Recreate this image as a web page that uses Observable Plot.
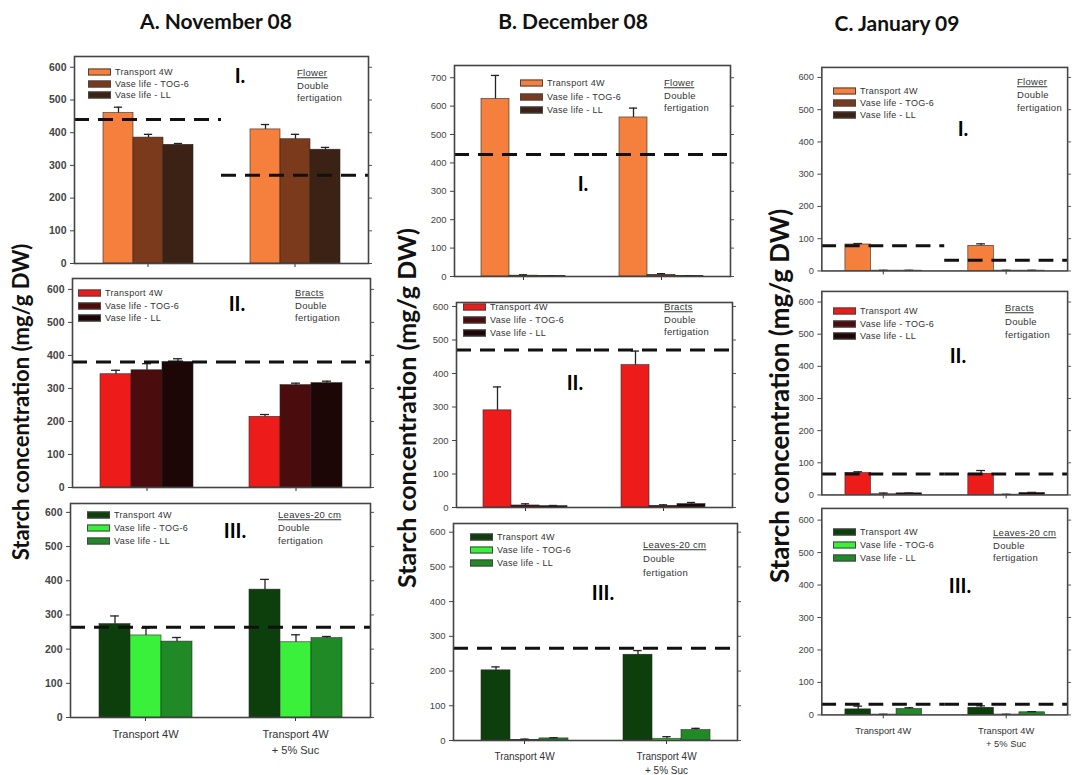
<!DOCTYPE html>
<html>
<head>
<meta charset="utf-8">
<script src="https://cdn.jsdelivr.net/npm/d3@7"></script>
<script src="https://cdn.jsdelivr.net/npm/@observablehq/plot@0.6"></script>
<style>
  body { margin: 0; background: #fff; }
  #root { position: relative; width: 1075px; height: 775px; overflow: hidden; font-family: "Liberation Sans", Arial, sans-serif; }
  .abs { position: absolute; white-space: nowrap; }
  .title { font-family: Lato, "Open Sans", sans-serif; font-weight: bold; font-size: 21px; color: #111; transform: translate(-50%, -50%); }
  .ylab { font-family: Lato, "Open Sans", sans-serif; font-weight: bold; color: #111; transform: translate(-50%, -50%) rotate(-90deg); }
  .num { font-family: Lato, "Open Sans", sans-serif; font-weight: bold; font-size: 20px; color: #000; transform: translate(-50%, -50%); }
  .leg { font-size: 9px; color: #333; transform: translateY(-50%); line-height: 1; letter-spacing: 0.3px; }
  .sw { width: 23px; height: 7px; border: 1px solid #444; box-sizing: border-box; transform: translateY(-50%); }
  .org { font-size: 9.5px; color: #333; transform: translateY(-50%); line-height: 1; letter-spacing: 0.3px; }
</style>
</head>
<body>
<div id="root"></div>
<script>
// ---------- data ----------
const groups = ["Transport 4W", "Transport 4W\n+ 5% Suc"];
const series = ["Transport 4W", "Vase life - TOG-6", "Vase life - LL"];
const yTicks600 = [0, 100, 200, 300, 400, 500, 600];
const yTicks700 = [0, 100, 200, 300, 400, 500, 600, 700];

// values ordered: group1 (T4W, TOG-6, LL), group2 (T4W, TOG-6, LL)
const novFlower    = [460, 385, 363, 410, 380, 348];
const novFlowerErr = [18, 10, 4, 15, 15, 7];
const novFlowerRef = [440, 270];
const novBracts    = [343, 355, 380, 214, 310, 316];
const novBractsErr = [12, 20, 10, 7, 6, 6];
const novBractsRef = [380, 380];
const novLeaves    = [273, 240, 222, 374, 220, 232];
const novLeavesErr = [24, 22, 12, 30, 22, 5];
const novLeavesRef = [264, 264];

const decFlower    = [625, 3, 2, 560, 6, 2];
const decFlowerErr = [83, 3, 1, 33, 4, 1];
const decFlowerRef = [430, 430];
const decBracts    = [290, 6, 4, 425, 5, 10];
const decBractsErr = [70, 5, 2, 42, 3, 5];
const decBractsRef = [470, 470];
const decLeaves    = [202, 2, 6, 247, 5, 30];
const decLeavesErr = [10, 2, 2, 12, 6, 5];
const decLeavesRef = [266, 266];

const janFlower    = [82, 1, 1, 78, 1, 1];
const janFlowerErr = [3, 1, 1, 6, 1, 1];
const janFlowerRef = [78, 33];
const janBracts    = [68, 2, 5, 66, 1, 6];
const janBractsErr = [4, 4, 1, 10, 1, 2];
const janBractsRef = [65, 65];
const janLeaves    = [17, 1, 18, 22, 1, 8];
const janLeavesErr = [10, 1, 4, 6, 1, 2];
const janLeavesRef = [33, 33];

const flowerColors = ["#f5803e", "#7b3a1c", "#3b2215"];
const bractColors  = ["#ee1b1b", "#4a0c0c", "#1c0606"];
const leafColors   = ["#0d3f0d", "#3af03a", "#1f8a26"];

const titles = ["A. November 08", "B. December 08", "C. January 09"];
const yLabel = "Starch concentration (mg/g DW)";
const organLabels = { Flower: "Flower", Bracts: "Bracts", Leaves: "Leaves-20 cm" };
const organSub = ["Double", "fertigation"];

// ---------- layout ----------
const panels = [
  {organ: "Flower", v: novFlower, e: novFlowerErr, r: novFlowerRef, c: flowerColors, box: [73, 56, 368, 263], ymax: 633, ticks: yTicks600, xl: false, fs: 10.5, num: "I.", np: [240, 75], sw: [88, 72, 11.5], og: [297, 73, 12.5]},
  {organ: "Bracts", v: novBracts, e: novBractsErr, r: novBractsRef, c: bractColors, box: [72, 278, 370, 487], ymax: 633, ticks: yTicks600, xl: false, fs: 10.5, num: "II.", np: [237, 303], sw: [78, 293, 12.5], og: [295, 293, 12.5]},
  {organ: "Leaves", v: novLeaves, e: novLeavesErr, r: novLeavesRef, c: leafColors, box: [70, 503, 370, 717], ymax: 626, ticks: yTicks600, xl: true, fs: 10.5, xfs: 11, num: "III.", np: [235, 530], sw: [87, 515, 13], og: [278, 515, 13]},
  {organ: "Flower", v: decFlower, e: decFlowerErr, r: decFlowerRef, c: flowerColors, box: [453, 65, 730, 276], ymax: 743, ticks: yTicks700, xl: false, fs: 9.5, num: "I.", np: [583, 183], sw: [520, 83, 13.5], og: [664, 83, 12.5]},
  {organ: "Bracts", v: decBracts, e: decBractsErr, r: decBractsRef, c: bractColors, box: [455, 302, 732, 507], ymax: 612, ticks: yTicks600, xl: false, fs: 9.5, num: "II.", np: [575, 382], sw: [463, 307, 13], og: [664, 307, 12.5]},
  {organ: "Leaves", v: decLeaves, e: decLeavesErr, r: decLeavesRef, c: leafColors, box: [453, 523, 737, 740], ymax: 625, ticks: yTicks600, xl: true, fs: 9.5, xfs: 10, num: "III.", np: [603, 592], sw: [470, 537, 13], og: [643, 545, 14]},
  {organ: "Flower", v: janFlower, e: janFlowerErr, r: janFlowerRef, c: flowerColors, box: [822, 67, 1072, 274], ymax: 631, ticks: yTicks600, xl: false, fs: 9.5, num: "I.", np: [963, 128], sw: [833, 91, 12], og: [1017, 82, 13]},
  {organ: "Bracts", v: janBracts, e: janBractsErr, r: janBractsRef, c: bractColors, box: [822, 291, 1072, 498], ymax: 633, ticks: yTicks600, xl: false, fs: 9.5, num: "II.", np: [958, 355], sw: [833, 311, 12.5], og: [1005, 308, 13.5]},
  {organ: "Leaves", v: janLeaves, e: janLeavesErr, r: janLeavesRef, c: leafColors, box: [822, 508, 1072, 718], ymax: 636, ticks: yTicks600, xl: true, fs: 9.5, xfs: 9.5, num: "III.", np: [960, 585], sw: [833, 532, 13], og: [993, 533, 12.5]}
];
const titlePos = [[216, 20], [573, 20], [897, 22]];
const yLabPos = [[20, 402, 22], [406, 408, 25], [779, 396, 26]];

const root = document.getElementById("root");
function add(cls, text, x, y, extra) {
  const d = document.createElement("div");
  d.className = "abs " + cls;
  d.textContent = text;
  d.style.left = x + "px";
  d.style.top = y + "px";
  if (extra) Object.assign(d.style, extra);
  root.appendChild(d);
  return d;
}

const PO = 0.9;
function buildPlot(p, useSuper) {
  const [L, T, R, B] = p.box;
  const ml = 40, mr = 8, mt = 4, mb = p.xl ? 40 : 10;
  const fw = R - L, fh = B - T;
  const bw = (fw / 2) / (3 + 2 * PO);
  const cap = Math.max(0, bw / 2 - 4.5);
  const rows = [];
  groups.forEach((g, gi) => series.forEach((s, si) =>
    rows.push({group: g, series: s, value: p.v[gi * 3 + si], err: p.e[gi * 3 + si]})));
  const refRows = groups.map((g, gi) => ({group: g, value: p.r[gi]}));
  const marks = [
    Plot.barY(rows, {fx: "group", x: "series", y: "value", fill: "series", stroke: "#2a2a2a", strokeWidth: 0.6}),
    Plot.ruleX(rows, {fx: "group", x: "series", y1: "value", y2: d => d.value + d.err, stroke: "#222", strokeWidth: 1.3}),
    Plot.tickY(rows, {fx: "group", x: "series", y: d => d.value + d.err, insetLeft: cap, insetRight: cap, stroke: "#222", strokeWidth: 1.3}),
    Plot.ruleY(refRows, {fx: "group", y: "value", stroke: "#111", strokeWidth: 3, strokeDasharray: "15,9"}),
    Plot.axisY({ticks: p.ticks, tickSize: 4, tickPadding: 4, fontSize: p.fs, fontWeight: p.fs >= 10 ? "bold" : "normal", color: "#444", label: null}),
    Plot.axisY({ticks: p.ticks, anchor: "right", tickSize: 3, tickFormat: () => "", color: "#555", label: null}),
    Plot.axisFx({anchor: "bottom", tickSize: 4, tickPadding: 6, label: null, color: "#333",
      fontSize: p.xfs || 9, lineHeight: 1.4, tickFormat: p.xl ? (d => d) : (() => "")})
  ];
  if (useSuper) marks.push(Plot.frame({facet: "super", stroke: "#444", strokeWidth: 1.6}));
  else marks.push(Plot.frame({stroke: "#444", strokeWidth: 1.6}));
  const svg = Plot.plot({
    width: fw + ml + mr, height: fh + mt + mb,
    marginLeft: ml, marginRight: mr, marginTop: mt, marginBottom: mb,
    style: {fontFamily: "'Liberation Sans', Arial, sans-serif", background: "transparent", overflow: "visible"},
    fx: {domain: groups, padding: 0, label: null},
    x: {domain: series, paddingInner: 0, paddingOuter: PO, axis: null},
    y: {domain: [0, p.ymax], label: null},
    color: {domain: series, range: p.c},
    marks
  });
  return {svg, ml, mt};
}

panels.forEach(p => {
  let res;
  try { res = buildPlot(p, true); } catch (err) { res = buildPlot(p, false); }
  const wrap = document.createElement("div");
  wrap.className = "abs";
  wrap.style.left = (p.box[0] - res.ml) + "px";
  wrap.style.top = (p.box[1] - res.mt) + "px";
  wrap.appendChild(res.svg);
  root.appendChild(wrap);

  // legend
  const [sx, sy, sd] = p.sw;
  series.forEach((s, i) => {
    add("sw", "", sx, sy + i * sd, {background: p.c[i]});
    add("leg", s, sx + 27, sy + i * sd);
  });
  const [ox, oy, od] = p.og;
  add("org", organLabels[p.organ], ox, oy, {textDecoration: "underline"});
  organSub.forEach((t, i) => add("org", t, ox, oy + (i + 1) * od));
  add("num", p.num, p.np[0], p.np[1]);
});

titles.forEach((t, i) => add("title", t, titlePos[i][0], titlePos[i][1]));
yLabPos.forEach(([x, y, fs]) => add("ylab", yLabel, x, y, {fontSize: fs + "px"}));
</script>
</body>
</html>
